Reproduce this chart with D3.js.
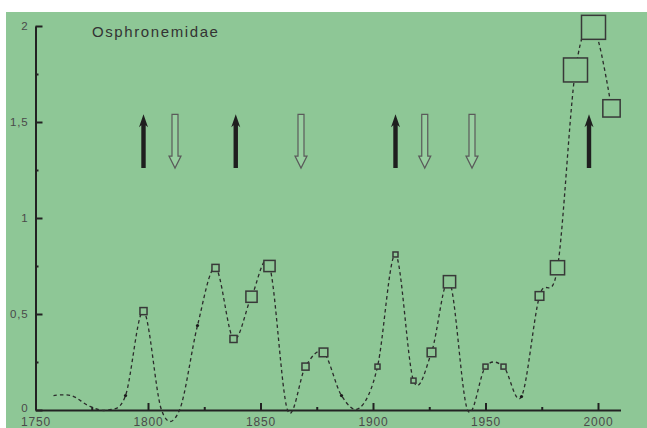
<!DOCTYPE html>
<html>
<head>
<meta charset="utf-8">
<script src="https://cdn.jsdelivr.net/npm/d3@7"></script>
<style>
  html, body { margin: 0; padding: 0; background: #ffffff; }
  svg { display: block; font-family: "Liberation Sans", Arial, sans-serif; }
</style>
</head>
<body>
<div id="chart"></div>
<script>
// sampling years of the smoothed series
var years = [1758, 1766, 1774, 1782, 1790, 1798, 1806, 1814, 1822, 1830, 1838, 1846, 1854, 1862, 1870, 1878,
             1886, 1894, 1902, 1910, 1918, 1926, 1934, 1942, 1950, 1958, 1966, 1974, 1982, 1990, 1998, 2006];
var values = [0.075, 0.075, 0.02, 0.0, 0.075, 0.515, 0.0, 0.0, 0.44, 0.74, 0.37, 0.59, 0.75, 0.0, 0.226, 0.30,
              0.075, 0.01, 0.226, 0.81, 0.153, 0.30, 0.668, 0.0, 0.226, 0.226, 0.07, 0.594, 0.741, 1.771, 1.993, 1.571];
// number of records behind each point (null = no marker, 0 = dot only)
var records = [null, null, null, null, 0, 2, null, null, 0, 2, 2, 5, 5, null, 2, 3,
               0, null, 1, 1, 1, 3, 6, null, 1, 1, 0, 3, 8, 23, 23, 12];

var upArrowYears = [1798, 1839, 1910, 1996];
var downArrowYears = [1812, 1868, 1923, 1944];
var arrowSpan = [1.26, 1.54];

var xMajorTicks = [1750, 1800, 1850, 1900, 1950, 2000];
var xMinorTicks = [1775, 1825, 1875, 1925, 1975];
var yMajorTicks = [0, 0.5, 1, 1.5, 2];
var yTickLabels = ['0', '0,5', '1', '1,5', '2'];
var yMinorTicks = [0.25, 0.75, 1.25, 1.75];
var title = 'Osphronemidae';

var W = 647, H = 428;
var bg = '#8ec796';
var ink = '#222222';

var svg = d3.select('#chart').append('svg')
  .attr('width', W)
  .attr('height', H);

svg.append('rect')
  .attr('x', 6).attr('y', 12)
  .attr('width', W - 6).attr('height', H - 12)
  .attr('fill', bg);

var x = d3.scaleLinear().domain([1750, 2010]).range([35.5, 620.5]);
var y = d3.scaleLinear().domain([0, 2]).range([410, 26]);
var size = d3.scaleSqrt().domain([0, 23]).range([0, 24]);

var points = years.map(function(yr, i) {
  return { year: yr, value: values[i], rec: records[i] };
});

// axes
var yAxis = svg.append('g')
  .attr('transform', 'translate(' + x(1750) + ',0)')
  .call(d3.axisLeft(y).tickValues(yMajorTicks).tickSize(-7).tickSizeOuter(0).tickPadding(5)
    .tickFormat(function(d, i) { return yTickLabels[i]; }));
svg.append('g')
  .attr('transform', 'translate(' + x(1750) + ',0)')
  .call(d3.axisLeft(y).tickValues(yMinorTicks).tickSize(-3).tickSizeOuter(0).tickFormat(''))
  .select('.domain').remove();

var xAxis = svg.append('g')
  .attr('transform', 'translate(0,' + y(0) + ')')
  .call(d3.axisBottom(x).tickValues(xMajorTicks).tickSize(-7).tickSizeOuter(0).tickPadding(7)
    .tickFormat(d3.format('d')));
svg.append('g')
  .attr('transform', 'translate(0,' + y(0) + ')')
  .call(d3.axisBottom(x).tickValues(xMinorTicks).tickSize(-3).tickSizeOuter(0).tickFormat(''))
  .select('.domain').remove();

svg.selectAll('.domain').attr('stroke', ink).attr('stroke-width', 2);
svg.selectAll('.tick line').attr('stroke', ink).attr('stroke-width', 2);
svg.selectAll('.tick text')
  .attr('fill', '#4a4a4a')
  .attr('font-size', '12px')
  .attr('letter-spacing', '0.8px')
  .attr('font-family', '"Liberation Sans", Arial, sans-serif');
yAxis.selectAll('.tick text')
  .attr('dx', '-2')
  .attr('font-size', '11.5px')
  .attr('dy', function(d) { return d === 0 ? '0.1em' : '0.32em'; });

// title
svg.append('text')
  .attr('x', 92)
  .attr('y', 37)
  .attr('font-size', '15px')
  .attr('letter-spacing', '1.6px')
  .attr('fill', '#333333')
  .text(title);

// smoothed dashed curve
var line = d3.line()
  .x(function(d) { return x(d.year); })
  .y(function(d) { return y(d.value); })
  .curve(d3.curveCardinal.tension(0));

svg.append('path')
  .datum(points)
  .attr('d', line)
  .attr('fill', 'none')
  .attr('stroke', '#2b2b2b')
  .attr('stroke-width', 1.3)
  .attr('stroke-dasharray', '3.5,3');

// dots
svg.selectAll('circle.dot')
    .data(points.filter(function(d) { return d.rec === 0; }))
  .enter().append('circle')
    .attr('class', 'dot')
    .attr('cx', function(d) { return x(d.year); })
    .attr('cy', function(d) { return y(d.value); })
    .attr('r', 1.6)
    .attr('fill', '#1a1a1a');

// square markers
svg.selectAll('rect.mark')
    .data(points.filter(function(d) { return d.rec > 0; }))
  .enter().append('rect')
    .attr('class', 'mark')
    .attr('x', function(d) { return x(d.year) - size(d.rec) / 2; })
    .attr('y', function(d) { return y(d.value) - size(d.rec) / 2; })
    .attr('width', function(d) { return size(d.rec); })
    .attr('height', function(d) { return size(d.rec); })
    .attr('fill', bg)
    .attr('stroke', '#383838')
    .attr('stroke-width', 1.5);

// arrows
var arrowTop = y(arrowSpan[1]), arrowBottom = y(arrowSpan[0]);

svg.selectAll('path.up')
    .data(upArrowYears)
  .enter().append('path')
    .attr('class', 'up')
    .attr('d', function(d) {
      var cx = x(d), hw = 4.5, sw = 2.2, hl = 13;
      return 'M' + cx + ',' + arrowTop +
        'L' + (cx + hw) + ',' + (arrowTop + hl) +
        'L' + (cx + sw) + ',' + (arrowTop + hl - 2) +
        'L' + (cx + sw) + ',' + arrowBottom +
        'L' + (cx - sw) + ',' + arrowBottom +
        'L' + (cx - sw) + ',' + (arrowTop + hl - 2) +
        'L' + (cx - hw) + ',' + (arrowTop + hl) + 'Z';
    })
    .attr('fill', '#1f1f1f');

svg.selectAll('path.down')
    .data(downArrowYears)
  .enter().append('path')
    .attr('class', 'down')
    .attr('d', function(d) {
      var cx = x(d), hw = 6, sw = 3, hl = 12;
      return 'M' + (cx - sw) + ',' + arrowTop +
        'L' + (cx + sw) + ',' + arrowTop +
        'L' + (cx + sw) + ',' + (arrowBottom - hl) +
        'L' + (cx + hw) + ',' + (arrowBottom - hl) +
        'L' + cx + ',' + arrowBottom +
        'L' + (cx - hw) + ',' + (arrowBottom - hl) +
        'L' + (cx - sw) + ',' + (arrowBottom - hl) + 'Z';
    })
    .attr('fill', '#98cfa0')
    .attr('stroke', '#5a5a5a')
    .attr('stroke-width', 1.2);
</script>
</body>
</html>
